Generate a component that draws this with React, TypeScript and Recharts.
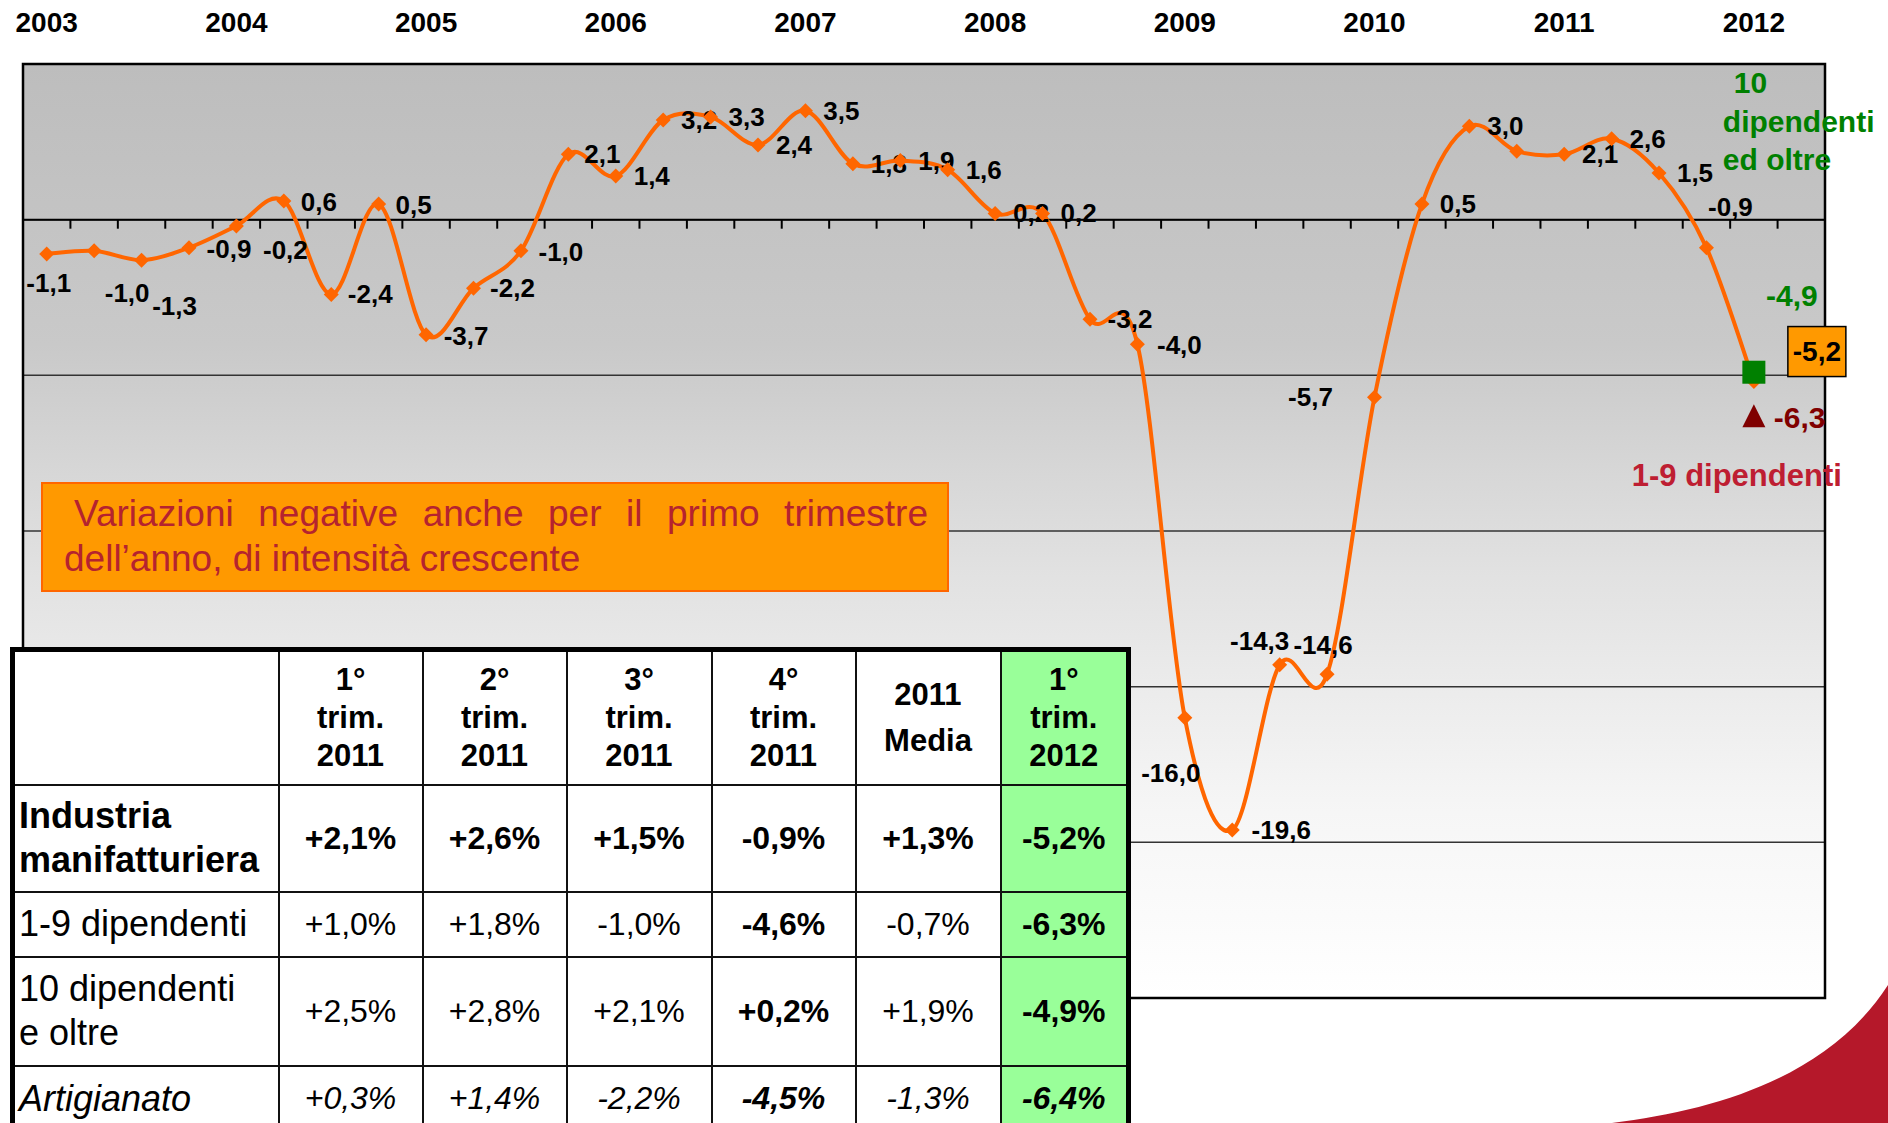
import React from "react";
import {
  ComposedChart,
  Line,
  Scatter,
  XAxis,
  YAxis,
  CartesianGrid,
  ReferenceLine,
  ReferenceArea,
} from "recharts";

const FONT = "'Liberation Sans', Arial, Helvetica, sans-serif";

const years = ["2003", "2004", "2005", "2006", "2007", "2008", "2009", "2010", "2011", "2012"];

const quarters = [
  "2003 T1", "2003 T2", "2003 T3", "2003 T4",
  "2004 T1", "2004 T2", "2004 T3", "2004 T4",
  "2005 T1", "2005 T2", "2005 T3", "2005 T4",
  "2006 T1", "2006 T2", "2006 T3", "2006 T4",
  "2007 T1", "2007 T2", "2007 T3", "2007 T4",
  "2008 T1", "2008 T2", "2008 T3", "2008 T4",
  "2009 T1", "2009 T2", "2009 T3", "2009 T4",
  "2010 T1", "2010 T2", "2010 T3", "2010 T4",
  "2011 T1", "2011 T2", "2011 T3", "2011 T4",
  "2012 T1",
];

// industria manifatturiera, variazione tendenziale %
const manufacturing = [
  -1.1, -1.0, -1.3, -0.9,
  -0.2, 0.6, -2.4, 0.5,
  -3.7, -2.2, -1.0, 2.1,
  1.4, 3.2, 3.3, 2.4,
  3.5, 1.8, 1.9, 1.6,
  0.2, 0.2, -3.2, -4.0,
  -16.0, -19.6, -14.3, -14.6,
  -5.7, 0.5, 3.0, 2.2,
  2.1, 2.6, 1.5, -0.9,
  -5.2,
];

// tabella
const tableHeaders = [
  ["1°", "trim.", "2011"],
  ["2°", "trim.", "2011"],
  ["3°", "trim.", "2011"],
  ["4°", "trim.", "2011"],
  ["2011", "Media"],
  ["1°", "trim.", "2012"],
];
const rowLabels = [["Industria", "manifatturiera"], ["1-9 dipendenti"], ["10 dipendenti", "e oltre"], ["Artigianato"]];
const manufacturingRow = [2.1, 2.6, 1.5, -0.9, 1.3, -5.2];
const smallFirmsRow = [1.0, 1.8, -1.0, -4.6, -0.7, -6.3];
const largeFirmsRow = [2.5, 2.8, 2.1, 0.2, 1.9, -4.9];
const craftRow = [0.3, 1.4, -2.2, -4.5, -1.3, -6.4];

// label placement (px offsets from the marker), hidden labels
const hiddenLabels = [31];
const labelOffsets: Record<number, [number, number]> = {
  0: [2, 29],
  1: [33, 42],
  2: [33, 46],
  3: [40, 1],
  4: [49, 24],
  5: [35, 1],
  6: [39, 0],
  7: [35, 1],
  8: [40, 1],
  9: [39, 0],
  10: [40, 1],
  11: [34, 0],
  22: [40, 0],
  23: [42, 1],
  24: [-14, 55],
  25: [49, 0],
  26: [-20, -24],
  27: [-4, -29],
  28: [-64, 0],
  35: [24, -41],
};

const fmt = (v: number) => v.toFixed(1).replace(".", ",");
const fmtPct = (v: number) => (v > 0 ? "+" : "") + fmt(v) + "%";

const chartData = quarters.map((q, i) => ({ x: i, q, v: manufacturing[i] }));
const lastX = quarters.length - 1;
const largeFirmsPoint = [{ x: lastX, y: largeFirmsRow[largeFirmsRow.length - 1] }];
const smallFirmsPoint = [{ x: lastX, y: smallFirmsRow[smallFirmsRow.length - 1] }];
const yearTicks = years.map((_, k) => k * 4);
const tickBoundaries = quarters.map((_, i) => i + 0.5);

// Excel-like smoothed line (Catmull-Rom as cubic bezier)
const excelSmooth: any = (ctx: any) => {
  let pts: number[][] = [];
  return {
    areaStart() {},
    areaEnd() {},
    lineStart() {
      pts = [];
    },
    point(x: number, y: number) {
      pts.push([+x, +y]);
    },
    lineEnd() {
      if (!pts.length) return;
      ctx.moveTo(pts[0][0], pts[0][1]);
      for (let i = 0; i < pts.length - 1; i++) {
        const p0 = pts[i - 1] || pts[i];
        const p1 = pts[i];
        const p2 = pts[i + 1];
        const p3 = pts[i + 2] || p2;
        ctx.bezierCurveTo(
          p1[0] + (p2[0] - p0[0]) / 6,
          p1[1] + (p2[1] - p0[1]) / 6,
          p2[0] - (p3[0] - p1[0]) / 6,
          p2[1] - (p3[1] - p1[1]) / 6,
          p2[0],
          p2[1]
        );
      }
    },
  };
};

const renderPoint = (props: any) => {
  const { cx, cy, index } = props;
  if (cx == null || cy == null) return <g key={`p${index}`} />;
  const s = 7.5;
  const value = manufacturing[index];
  const [dx, dy] = labelOffsets[index] ?? [36, 0];
  const isLast = index === manufacturing.length - 1;
  return (
    <g key={`p${index}`}>
      <path d={`M${cx},${cy - s}L${cx + s},${cy}L${cx},${cy + s}L${cx - s},${cy}Z`} fill="#FF6600" />
      {isLast ? (
        <g>
          <rect x={cx + 34} y={cy - 55} width={58} height={50} fill="#FF9900" stroke="#000" strokeWidth={1.5} />
          <text x={cx + 63} y={cy - 30} textAnchor="middle" dominantBaseline="central" fontFamily={FONT} fontSize={28} fontWeight="bold" fill="#000">
            {fmt(value)}
          </text>
        </g>
      ) : hiddenLabels.includes(index) ? null : (
        <text x={cx + dx} y={cy + dy} textAnchor="middle" dominantBaseline="central" fontFamily={FONT} fontSize={26} fontWeight="bold" fill="#000">
          {fmt(value)}
        </text>
      )}
    </g>
  );
};

const renderLargeFirms = (props: any) => {
  const { cx, cy } = props;
  if (cx == null || cy == null) return <g />;
  const v = largeFirmsRow[largeFirmsRow.length - 1];
  const txt = { fontFamily: FONT, fontSize: 30, fontWeight: "bold" as const, fill: "#008000" };
  return (
    <g>
      <rect x={cx - 11.5} y={cy - 11.5} width={23} height={23} fill="#008000" />
      <text x={cx + 38} y={cy - 77} textAnchor="middle" dominantBaseline="central" {...txt}>{fmt(v)}</text>
      <text x={cx - 20} y={cy - 290} dominantBaseline="central" {...txt}>10</text>
      <text x={cx - 31} y={cy - 251} dominantBaseline="central" {...txt}>dipendenti</text>
      <text x={cx - 31} y={cy - 213} dominantBaseline="central" {...txt}>ed oltre</text>
    </g>
  );
};

const renderSmallFirms = (props: any) => {
  const { cx, cy } = props;
  if (cx == null || cy == null) return <g />;
  const v = smallFirmsRow[smallFirmsRow.length - 1];
  return (
    <g>
      <path d={`M${cx},${cy - 11.5}L${cx + 11.5},${cy + 11.5}L${cx - 11.5},${cy + 11.5}Z`} fill="#800000" />
      <text x={cx + 20} y={cy + 2} dominantBaseline="central" fontFamily={FONT} fontSize={30} fontWeight="bold" fill="#800000">
        {fmt(v)}
      </text>
      <text x={cx + 88} y={cy + 60} textAnchor="end" dominantBaseline="central" fontFamily={FONT} fontSize={31} fontWeight="bold" fill="#BE1E32">
        1-9 dipendenti
      </text>
    </g>
  );
};

const renderYear = (props: any) => {
  const { x, payload } = props;
  const k = yearTicks.indexOf(payload.value);
  return (
    <text x={x} y={32} textAnchor="middle" fontFamily={FONT} fontSize={28} fontWeight="bold" fill="#000">
      {years[k]}
    </text>
  );
};

const colWidths = [266, 144, 144, 145, 144, 145, 128];
const rowHeights = [107, 65, 109, 68];
const rows = [manufacturingRow, smallFirmsRow, largeFirmsRow, craftRow];
const boldCells = [
  [true, true, true, true, true, true],
  [false, false, false, true, false, true],
  [false, false, false, true, false, true],
  [false, false, false, true, false, true],
];

const cellBase: React.CSSProperties = {
  border: "2px solid #111",
  padding: 0,
  textAlign: "center",
  verticalAlign: "middle",
};

function DataTable() {
  return (
    <table
      style={{
        position: "absolute",
        left: 10,
        top: 647,
        width: 1116,
        borderCollapse: "collapse",
        tableLayout: "fixed",
        background: "#fff",
        border: "5px solid #000",
        fontFamily: FONT,
        color: "#000",
      }}
    >
      <colgroup>
        {colWidths.map((w, i) => (
          <col key={i} style={{ width: w }} />
        ))}
      </colgroup>
      <tbody>
        <tr style={{ height: 135 }}>
          <td style={cellBase} />
          {tableHeaders.map((h, i) => (
            <td
              key={i}
              style={{
                ...cellBase,
                fontSize: 31,
                fontWeight: "bold",
                lineHeight: h.length === 2 ? "46px" : "38px",
                background: i === tableHeaders.length - 1 ? "#99FF99" : "#fff",
              }}
            >
              {h.map((line, j) => (
                <div key={j}>{line}</div>
              ))}
            </td>
          ))}
        </tr>
        {rows.map((r, ri) => (
          <tr key={ri} style={{ height: rowHeights[ri] }}>
            <td
              style={{
                ...cellBase,
                textAlign: "left",
                paddingLeft: 4,
                fontSize: 36,
                lineHeight: "44px",
                fontWeight: ri === 0 ? "bold" : "normal",
                fontStyle: ri === 3 ? "italic" : "normal",
                whiteSpace: "nowrap",
              }}
            >
              {rowLabels[ri].map((line, j) => (
                <div key={j}>{line}</div>
              ))}
            </td>
            {r.map((v, ci) => (
              <td
                key={ci}
                style={{
                  ...cellBase,
                  fontSize: 32,
                  fontWeight: boldCells[ri][ci] ? "bold" : "normal",
                  fontStyle: ri === 3 ? "italic" : "normal",
                  background: ci === r.length - 1 ? "#99FF99" : "#fff",
                }}
              >
                {fmtPct(v)}
              </td>
            ))}
          </tr>
        ))}
      </tbody>
    </table>
  );
}

export default function App() {
  return (
    <div
      style={{
        position: "absolute",
        left: 0,
        top: 0,
        width: 1888,
        height: 1123,
        overflow: "hidden",
        background: "#fff",
        fontFamily: FONT,
      }}
    >
      <ComposedChart
        width={1888}
        height={1123}
        data={chartData}
        margin={{ top: 0, right: 63, bottom: 125, left: 23 }}
      >
        <defs>
          <linearGradient id="plotBg" x1="0" y1="0" x2="0" y2="1">
            <stop offset="0%" stopColor="#BDBDBD" />
            <stop offset="30%" stopColor="#C9C9C9" />
            <stop offset="55%" stopColor="#E2E2E2" />
            <stop offset="80%" stopColor="#F6F6F6" />
            <stop offset="100%" stopColor="#FFFFFF" />
          </linearGradient>
        </defs>
        <XAxis dataKey="x" type="number" domain={[-0.5, 37.5]} hide />
        <XAxis
          xAxisId="year"
          dataKey="x"
          type="number"
          orientation="top"
          domain={[-0.5, 37.5]}
          ticks={yearTicks}
          interval={0}
          height={64}
          axisLine={false}
          tickLine={false}
          tick={renderYear}
        />
        <YAxis type="number" domain={[-25, 5]} ticks={[-25, -20, -15, -10, -5, 0, 5]} hide />
        <CartesianGrid vertical={false} stroke="#333" strokeWidth={1.5} fill="url(#plotBg)" fillOpacity={1} />
        <ReferenceLine y={0} stroke="#000" strokeWidth={2} />
        {tickBoundaries.map((b) => (
          <ReferenceLine
            key={b}
            segment={[
              { x: b, y: 0 },
              { x: b, y: -0.29 },
            ]}
            stroke="#000"
            strokeWidth={2}
          />
        ))}
        <ReferenceArea x1={-0.5} x2={37.5} y1={-25} y2={5} fill="none" stroke="#000" strokeWidth={2.5} />
        <Line
          dataKey="v"
          type={excelSmooth}
          stroke="#FF6600"
          strokeWidth={4}
          dot={renderPoint}
          activeDot={false}
          isAnimationActive={false}
        />
        <Scatter data={largeFirmsPoint} dataKey="y" shape={renderLargeFirms} isAnimationActive={false} />
        <Scatter data={smallFirmsPoint} dataKey="y" shape={renderSmallFirms} isAnimationActive={false} />
      </ComposedChart>

      <div
        style={{
          position: "absolute",
          left: 41,
          top: 482,
          width: 908,
          height: 110,
          boxSizing: "border-box",
          background: "#FF9900",
          border: "2px solid #FF6600",
          color: "#B5232F",
          fontSize: 37,
          lineHeight: "44.5px",
          padding: "8px 19px 0 21px",
          textAlign: "justify",
          textIndent: 10,
        }}
      >
        Variazioni negative anche per il primo trimestre dell’anno, di intensità crescente
      </div>

      <DataTable />

      <svg width={1888} height={1123} style={{ position: "absolute", left: 0, top: 0, pointerEvents: "none" }}>
        <path d="M1612,1123 C1720,1110 1830,1075 1888,985 L1888,1123 Z" fill="#B5182A" />
      </svg>
    </div>
  );
}
